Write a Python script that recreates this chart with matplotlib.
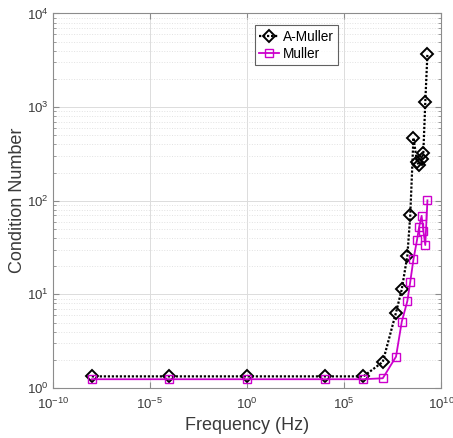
import numpy as np
import matplotlib
matplotlib.use("Agg")
import matplotlib.pyplot as plt
from matplotlib.ticker import LogLocator, FixedLocator, NullLocator, FuncFormatter

plt.rcParams['font.family'] = ['Liberation Sans', 'DejaVu Sans']
plt.rcParams['mathtext.fontset'] = 'custom'
plt.rcParams['mathtext.rm'] = 'Liberation Sans'

freq_hz = [1e-8, 1e-4, 1.0, 1e4, 1e6, 1e7, 4.8e7, 9.5e7, 1.85e8, 2.6e8, 3.8e8,
           5.8e8, 7.5e8, 1.0e9, 1.23e9, 1.55e9, 2.0e9]
a_muller = [1.33, 1.33, 1.33, 1.33, 1.33, 1.9, 6.4, 11.3, 26, 70, 470,
            260, 240, 278, 325, 1136, 3733]
muller = [1.24, 1.24, 1.24, 1.24, 1.24, 1.27, 2.16, 5.1, 8.5, 13.6, 23.6,
          38, 52.6, 69, 48, 33.6, 101]

x_ticks = [1e-10, 1e-5, 1e0, 1e5, 1e10]
y_ticks = [1e0, 1e1, 1e2, 1e3, 1e4]

fig = plt.figure(figsize=(4.53, 4.38), dpi=100)
ax = fig.add_axes([0.117, 0.1142, 0.8565, 0.855])

ax.plot(freq_hz, a_muller, color='black', linestyle=(0, (1, 0.8)), linewidth=1.6,
        marker='D', markersize=6.5, markerfacecolor='none', markeredgewidth=1.4,
        label='A-Muller')
ax.plot(freq_hz, muller, color='#CC00CC', linestyle='-', linewidth=1.3,
        marker='s', markersize=6, markerfacecolor='none', markeredgewidth=1.0,
        label='Muller')

ax.set_xscale('log')
ax.set_yscale('log')
ax.set_xlim(1e-10, 1e10)
ax.set_ylim(1e0, 1e4)

ax.xaxis.set_major_locator(FixedLocator(x_ticks))
ax.xaxis.set_minor_locator(NullLocator())
ax.yaxis.set_major_locator(FixedLocator(y_ticks))
ax.yaxis.set_minor_locator(LogLocator(base=10, subs=np.arange(2, 10)))

def fmt(v, pos):
    e = int(round(np.log10(v)))
    return r'$10^{%d}$' % e

ax.xaxis.set_major_formatter(FuncFormatter(fmt))
ax.yaxis.set_major_formatter(FuncFormatter(fmt))
ax.yaxis.set_minor_formatter(FuncFormatter(lambda v, p: ''))

ax.grid(True, which='major', color='#dcdcdc', linewidth=0.7, linestyle='-')
ax.grid(True, which='minor', axis='y', color='#e2e2e2', linewidth=0.7, linestyle=':')
ax.set_axisbelow(True)

for s in ax.spines.values():
    s.set_color('#8c8c8c')
    s.set_linewidth(0.8)
ax.tick_params(which='both', direction='in', colors='#8c8c8c', labelcolor='#3a3a3a',
               labelsize=9.5, top=True, right=True)
ax.tick_params(which='major', length=4)
ax.tick_params(which='minor', length=2)
ax.tick_params(axis='x', pad=6)
ax.tick_params(axis='y', pad=3)

ax.set_xlabel('Frequency (Hz)', fontsize=13, color='#3a3a3a')
ax.set_ylabel('Condition Number', fontsize=13, color='#3a3a3a')
ax.xaxis.set_label_coords(0.5, -0.078)
ax.yaxis.set_label_coords(-0.07, 0.5)

leg = ax.legend(loc='upper left', bbox_to_anchor=(0.52, 0.968), fontsize=9.8,
                frameon=True, fancybox=False, handlelength=1.5, handletextpad=0.3,
                borderpad=0.3, labelspacing=0.25, borderaxespad=0)
leg.get_frame().set_edgecolor('#3a3a3a')
leg.get_frame().set_linewidth(0.8)

fig.savefig('out.png', dpi=100, facecolor='white')
